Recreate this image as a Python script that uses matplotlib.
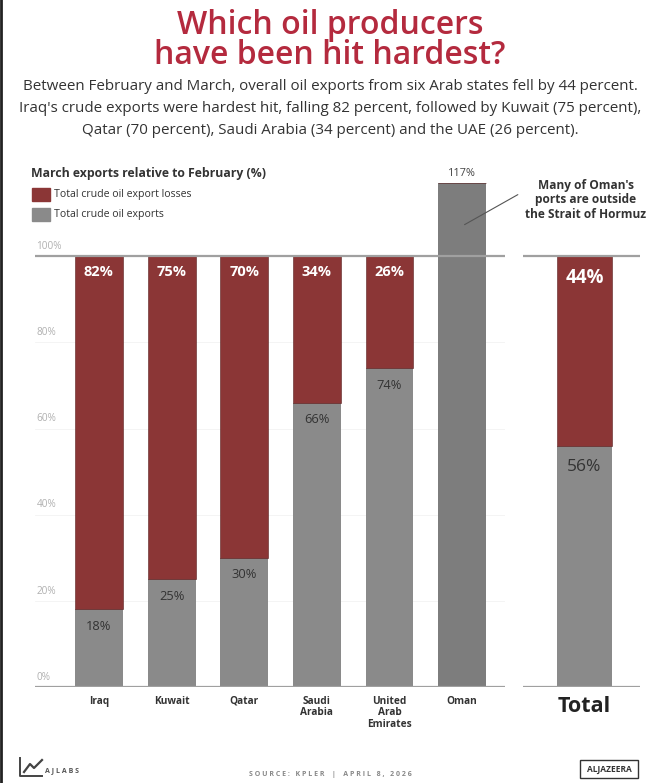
import matplotlib.pyplot as plt
from matplotlib.patches import Rectangle
from matplotlib.lines import Line2D

# ---------------- data ----------------
countries = ["Iraq", "Kuwait", "Qatar", "Saudi\nArabia", "United\nArab\nEmirates", "Oman"]
exports = [18, 25, 30, 66, 74, 117]      # March exports relative to February (%)
losses = [82, 75, 70, 34, 26, 0]         # export losses (%)
total_exports = 56
total_losses = 44
ticks = [0, 20, 40, 60, 80, 100]

RED = "#8b3636"
GREY = "#8a8a8a"
OMAN_GREY = "#7d7d7d"
LINE = "#a0a0a0"

plt.rcParams["font.family"] = ["Open Sans", "DejaVu Sans"]

fig = plt.figure(figsize=(6.6, 7.83), dpi=100)
fig.patch.set_facecolor("white")

def fy(py):
    # pixel row from top -> figure fraction
    return 1 - py / 783

# ---------------- titles ----------------
fig.text(0.5, fy(25), "Which oil producers", ha="center", va="center",
         fontsize=23, fontweight="semibold", color="#b42a3e")
fig.text(0.5, fy(55), "have been hit hardest?", ha="center", va="center",
         fontsize=23, fontweight="semibold", color="#b42a3e")
sub = ["Between February and March, overall oil exports from six Arab states fell by 44 percent.",
       "Iraq's crude exports were hardest hit, falling 82 percent, followed by Kuwait (75 percent),",
       "Qatar (70 percent), Saudi Arabia (34 percent) and the UAE (26 percent)."]
for i, s in enumerate(sub):
    fig.text(0.5, fy(86 + 22 * i), s, ha="center", va="center", fontsize=10.9, color="#333333")

# legend
fig.text(31 / 660, fy(173), "March exports relative to February (%)", ha="left", va="center",
         fontsize=8.8, fontweight="bold", color="#333333")
for i, (lab, col) in enumerate([("Total crude oil export losses", RED), ("Total crude oil exports", GREY)]):
    yc = fy(194 + i * 20)
    fig.patches.append(Rectangle((32 / 660, yc - 6.5 / 783), 18 / 660, 13 / 783,
                                 transform=fig.transFigure, color=col))
    fig.text(54 / 660, yc, lab, ha="left", va="center", fontsize=7.6, color="#333333")

# ---------------- main axes ----------------
ax = fig.add_axes([35 / 660, 96 / 783, 470 / 660, 517 / 783])
x = list(range(len(countries)))
bar_w = 0.66
colors_g = [GREY] * 5 + [OMAN_GREY]
ax.bar(x, exports, width=bar_w, color=colors_g, zorder=2)
ax.bar(x, losses, bottom=exports, width=bar_w, color=RED, zorder=2,
       edgecolor="#5a2020", linewidth=0.4)

ax.set_xlim(-0.88, 5.59)
ax.set_ylim(0, 120)
ax.axis("off")

for t in ticks:
    if t in (0, 100):
        ax.axhline(t, color=LINE, lw=1.6, zorder=3)
    else:
        ax.axhline(t, color="#f3f3f3", lw=0.6, zorder=1)
    ax.text(-0.86, t + 1.0, f"{t}%", ha="left", va="bottom", fontsize=7.2, color="#b0b0b0")

for xi, e, l in zip(x, exports, losses):
    if l > 0:
        ax.text(xi, 100 - 3.6, f"{l}%", ha="center", va="center", fontsize=10.5,
                fontweight="bold", color="white", zorder=4)
        ax.text(xi, e - 4.0, f"{e}%", ha="center", va="center", fontsize=9.3,
                color="#333333", zorder=4)
    else:
        ax.text(xi, e + 1, f"{e}%", ha="center", va="bottom", fontsize=7.8,
                color="#444444", zorder=4)

for xi, name in zip(x, countries):
    ax.text(xi, -2.0, name, ha="center", va="top", fontsize=7.3, fontweight="bold",
            color="#333333", linespacing=1.1)

# Oman note
ax.annotate("", xy=(5.0, 107), xytext=(5.8, 114.6),
            arrowprops=dict(arrowstyle="-", color="#555555", lw=0.8), annotation_clip=False)
for i, s in enumerate(["Many of Oman's", "ports are outside", "the Strait of Hormuz"]):
    fig.text(586 / 660, fy(186 + 14 * i), s, ha="center", va="center", fontsize=8.6,
             fontweight="bold", color="#333333")

# ---------------- total axes ----------------
ax2 = fig.add_axes([523 / 660, 96 / 783, 117 / 660, 517 / 783])
ax2.bar([0], [total_exports], width=0.94, color=GREY, zorder=2)
ax2.bar([0], [total_losses], bottom=[total_exports], width=0.94, color=RED, zorder=2,
        edgecolor="#5a2020", linewidth=0.4)
ax2.set_xlim(-1.05, 0.95)
ax2.set_ylim(0, 120)
ax2.axis("off")
ax2.axhline(0, color=LINE, lw=1.6, zorder=3)
ax2.axhline(100, color=LINE, lw=1.6, zorder=3)
ax2.text(0, 100 - 5.0, f"{total_losses}%", ha="center", va="center", fontsize=13.5,
         fontweight="bold", color="white", zorder=4)
ax2.text(0, total_exports - 5.0, f"{total_exports}%", ha="center", va="center", fontsize=12.5,
         color="#333333", zorder=4)
ax2.text(0, -2.0, "Total", ha="center", va="top", fontsize=15.5, fontweight="bold", color="#222222")

# ---------------- footer ----------------
fig.text(0.5, fy(775), "S O U R C E :   K P L E R    |    A P R I L   8 ,   2 0 2 6", ha="center",
         va="center", fontsize=5, color="#888888", fontweight="bold")
# AJLABS mark
fig.lines.append(Line2D([20 / 660, 20 / 660, 42 / 660], [fy(758), fy(776), fy(776)],
                        transform=fig.transFigure, color="#444444", lw=1.4))
fig.lines.append(Line2D([24 / 660, 30 / 660, 34 / 660, 42 / 660],
                        [fy(772), fy(764), fy(768), fy(760)],
                        transform=fig.transFigure, color="#444444", lw=1.6))
fig.text(45 / 660, fy(771), "A J L A B S", ha="left", va="center", fontsize=5,
         color="#555555", fontweight="bold")
# Al Jazeera mark
fig.patches.append(Rectangle((580 / 660, fy(778)), 58 / 660, 18 / 783, transform=fig.transFigure,
                             fill=False, edgecolor="#333333", lw=1))
fig.text(609 / 660, fy(769), "ALJAZEERA", ha="center", va="center", fontsize=6,
         fontweight="bold", color="#333333")

# left border
fig.lines.append(Line2D([0.002, 0.002], [0, 1], transform=fig.transFigure, color="#222222", lw=2))

fig.savefig("out.png", dpi=100, facecolor="white")
